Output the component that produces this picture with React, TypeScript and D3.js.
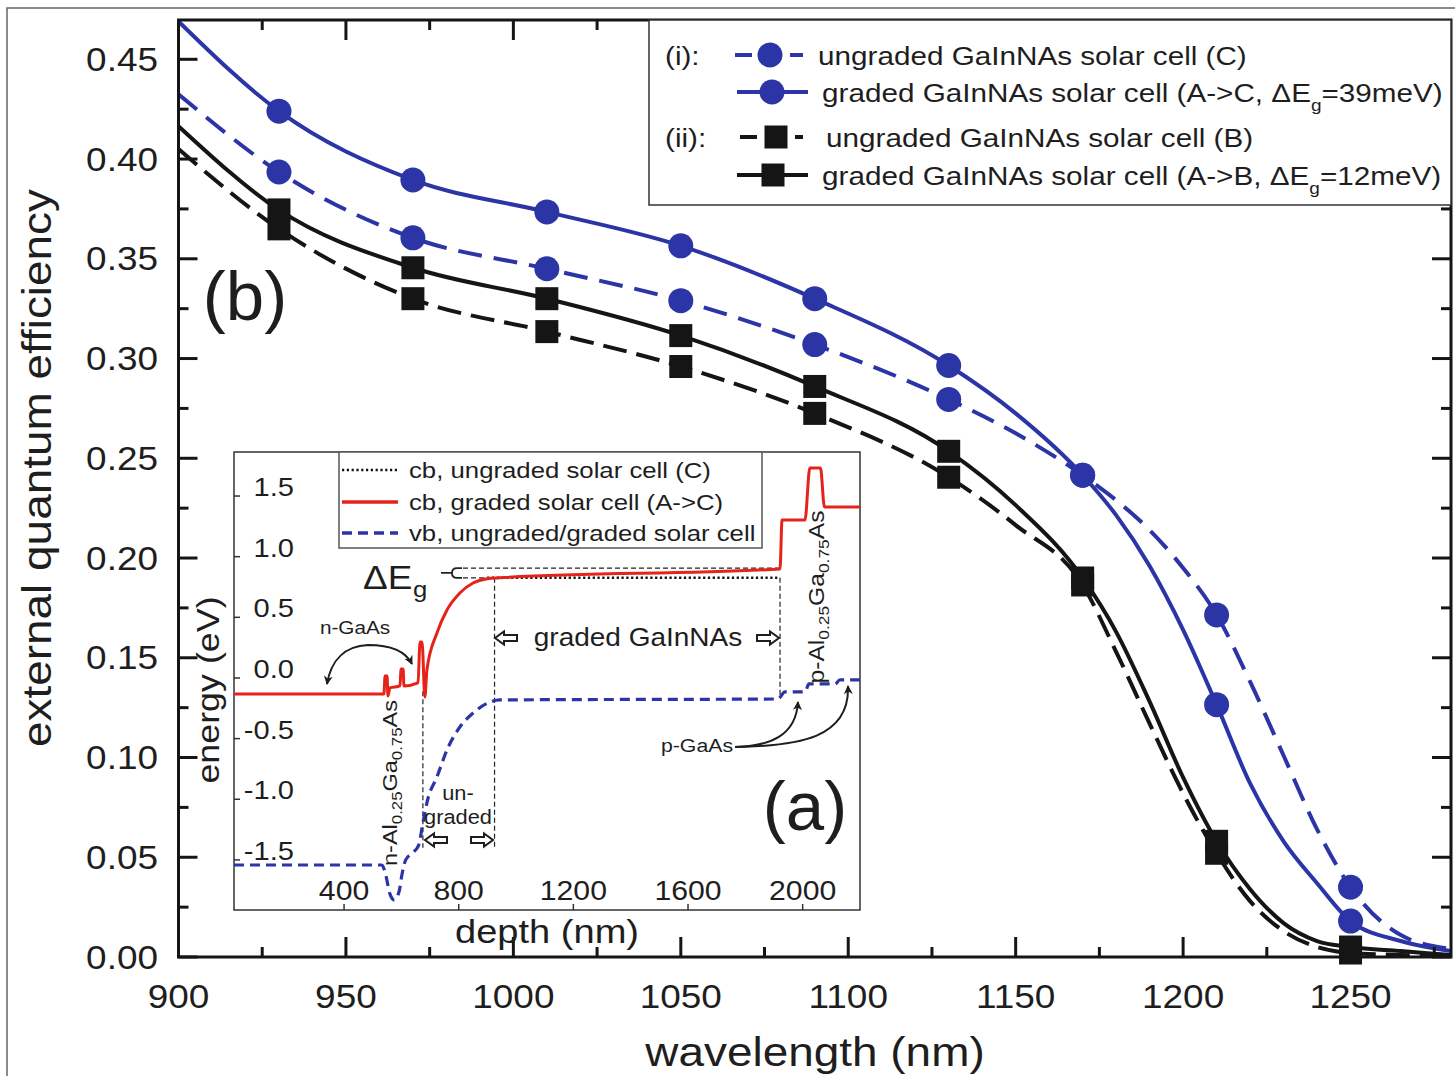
import React from 'react';
import * as d3 from 'd3';

const FONT = "'Liberation Sans', Arial, Helvetica, sans-serif";
const SX = 1.12;
const BLUE = '#2c35a6';
const BLACK = '#151515';
const TXT = '#1e1e1e';
const RED = '#e5231b';

// ---------------- main panel (b) data ----------------
const wavelengths = [900, 930, 970, 1010, 1050, 1090, 1130, 1150, 1170, 1180, 1190, 1200, 1210, 1220, 1230, 1240, 1250, 1265, 1280];
const gradedC = [0.469, 0.424, 0.3895, 0.3735, 0.3565, 0.330, 0.2965, 0.2725, 0.2415, 0.2215, 0.196, 0.164, 0.1265, 0.087, 0.058, 0.037, 0.018, 0.008, 0.003];
const ungradedC = [0.4325, 0.3935, 0.3605, 0.345, 0.329, 0.307, 0.2795, 0.2625, 0.2415, 0.229, 0.214, 0.195, 0.1715, 0.138, 0.101, 0.064, 0.035, 0.011, 0.004];
const gradedB = [0.4165, 0.3745, 0.3455, 0.330, 0.3115, 0.286, 0.2535, 0.2265, 0.190, 0.163, 0.128, 0.090, 0.058, 0.034, 0.017, 0.008, 0.005, 0.003, 0.001];
const ungradedB = [0.405, 0.365, 0.330, 0.3135, 0.296, 0.2725, 0.2405, 0.2165, 0.1865, 0.153, 0.117, 0.082, 0.052, 0.028, 0.013, 0.005, 0.002, 0.001, 0.0];
const markerWavelengths = [930, 970, 1010, 1050, 1090, 1130, 1170, 1210, 1250];

const xMajorTicks = [900, 950, 1000, 1050, 1100, 1150, 1200, 1250];
const xMinorTicks = [925, 975, 1025, 1075, 1125, 1175, 1225, 1275];
const yMajorTicks = [0, 0.05, 0.1, 0.15, 0.2, 0.25, 0.3, 0.35, 0.4, 0.45];
const yMinorTicks = [0.025, 0.075, 0.125, 0.175, 0.225, 0.275, 0.325, 0.375, 0.425];

// ---------------- inset (a) data: [depth nm, energy eV] ----------------
const cbGraded: [number, number][] = [
  [16, -0.132], [539, -0.132], [543, 0.016], [550, 0.016], [553, -0.148], [560, -0.082], [595, -0.066],
  [599, 0.074], [606, 0.074], [609, -0.066], [658, -0.041], [665, 0.297], [672, 0.297], [682, -0.157],
  [689, 0.066], [724, 0.371], [759, 0.561], [804, 0.701], [850, 0.783], [899, 0.818], [944, 0.826],
  [1921, 0.899], [1928, 1.303], [2008, 1.303], [2025, 1.731], [2062, 1.731], [2076, 1.41], [2200, 1.41],
];
const cbUngraded: [number, number][] = [[899, 0.826], [1921, 0.826]];
const vbBoth: [number, number][] = [
  [16, -1.542], [532, -1.542], [545, -1.62], [560, -1.78], [575, -1.83], [592, -1.76], [602, -1.62],
  [615, -1.5], [640, -1.44], [660, -1.38], [675, -1.195], [692, -1.0], [724, -0.816], [759, -0.594],
  [804, -0.404], [850, -0.289], [902, -0.206], [944, -0.181], [1914, -0.173], [1938, -0.115],
  [2008, -0.115], [2022, -0.049], [2113, -0.049], [2130, -0.016], [2200, -0.016],
];
const insetXTicks = [400, 800, 1200, 1600, 2000];
const insetYTicks = [-1.5, -1.0, -0.5, 0.0, 0.5, 1.0, 1.5];
const deltaEgLevels = [0.826, 0.905];
const layerBounds = [675, 925, 1921];

// ---------------- helpers ----------------
function T({ x, y, size, anchor = 'start', rotate = 0, sx = SX, fill = TXT, children }: any) {
  const tr = `translate(${x},${y})` + (rotate ? ` rotate(${rotate})` : '') + ` scale(${sx},1)`;
  return (
    <text transform={tr} fontSize={size} textAnchor={anchor} fill={fill} fontFamily={FONT}>
      {children}
    </text>
  );
}

function blockArrow(cx: number, cy: number, dir: number) {
  const w = 22, h = 13, hw = 9, bh = 3;
  const pts = [
    [-w / 2, -bh], [w / 2 - hw, -bh], [w / 2 - hw, -h / 2], [w / 2, 0],
    [w / 2 - hw, h / 2], [w / 2 - hw, bh], [-w / 2, bh],
  ].map(([px, py]) => `${cx + px * dir},${cy + py}`).join(' ');
  return <polygon points={pts} fill="white" stroke={TXT} strokeWidth={2} strokeLinejoin="miter" />;
}

const fmt1 = (v: number) => d3.format('.1f')(v).replace('\u2212', '-');

export default function App() {
  const W = 1455, H = 1076;
  const x = d3.scaleLinear().domain([900, 1280]).range([178.5, 1451]);
  const y = d3.scaleLinear().domain([0, 0.4697]).range([957, 20]);
  const [x0, x1] = x.range();
  const [y0, y1] = y.range();

  const mainLine = (vals: number[]) =>
    d3.line<number>().x((_, i) => x(wavelengths[i])).y((v) => y(v)).curve(d3.curveMonotoneX)(vals) || '';
  const mk = (vals: number[]) =>
    markerWavelengths.map((w) => ({ w, v: vals[wavelengths.indexOf(w)] }));

  const ix = d3.scaleLinear().domain([16, 2200]).range([234, 860]);
  const iy = d3.scaleLinear().domain([-1.913, 1.863]).range([910, 452]);
  const insetLine = d3.line<[number, number]>().x((d) => ix(d[0])).y((d) => iy(d[1])).curve(d3.curveMonotoneX);
  const straight = d3.line<[number, number]>().x((d) => ix(d[0])).y((d) => iy(d[1]));

  const sq = 23;

  return (
    <svg width={W} height={H} style={{ position: 'absolute', left: 0, top: 0, background: 'white' }} xmlns="http://www.w3.org/2000/svg">
      <defs>
        <clipPath id="mainClip"><rect x={x0} y={y1} width={x1 - x0} height={y0 - y1} /></clipPath>
        <clipPath id="insetClip"><rect x={234} y={452} width={626} height={458} /></clipPath>
        <marker id="ah" viewBox="0 0 10 10" refX="9" refY="5" markerWidth="9" markerHeight="9" markerUnits="userSpaceOnUse" orient="auto-start-reverse">
          <path d="M0,0 L10,5 L0,10 L3,5 z" fill={TXT} />
        </marker>
      </defs>
      <rect x={0} y={0} width={W} height={H} fill="white" />
      {/* outer figure border */}
      <rect x={7} y={8} width={1470} height={1090} fill="none" stroke="#666" strokeWidth={1.5} />

      {/* curves */}
      <g clipPath="url(#mainClip)" fill="none" strokeWidth={4}>
        <path d={mainLine(ungradedB)} stroke={BLACK} strokeDasharray="24 10" />
        <path d={mainLine(gradedB)} stroke={BLACK} />
        <path d={mainLine(ungradedC)} stroke={BLUE} strokeDasharray="24 12" />
        <path d={mainLine(gradedC)} stroke={BLUE} />
      </g>
      {/* markers */}
      {mk(ungradedB).map((d) => <rect key={'ub' + d.w} x={x(d.w) - sq / 2} y={y(d.v) - sq / 2} width={sq} height={sq} fill={BLACK} />)}
      {mk(gradedB).map((d) => <rect key={'gb' + d.w} x={x(d.w) - sq / 2} y={y(d.v) - sq / 2} width={sq} height={sq} fill={BLACK} />)}
      {mk(ungradedC).map((d) => <circle key={'uc' + d.w} cx={x(d.w)} cy={y(d.v)} r={12.5} fill={BLUE} />)}
      {mk(gradedC).map((d) => <circle key={'gc' + d.w} cx={x(d.w)} cy={y(d.v)} r={12.5} fill={BLUE} />)}

      {/* frame and ticks */}
      <rect x={x0} y={y1} width={x1 - x0} height={y0 - y1} fill="none" stroke={BLACK} strokeWidth={3} />
      <g stroke={BLACK} strokeWidth={3}>
        {xMajorTicks.map((t) => <line key={'xb' + t} x1={x(t)} x2={x(t)} y1={y0} y2={y0 - 20} />)}
        {xMinorTicks.map((t) => <line key={'xbm' + t} x1={x(t)} x2={x(t)} y1={y0} y2={y0 - 10} />)}
        {xMajorTicks.map((t) => <line key={'xt' + t} x1={x(t)} x2={x(t)} y1={y1} y2={y1 + 20} />)}
        {xMinorTicks.map((t) => <line key={'xtm' + t} x1={x(t)} x2={x(t)} y1={y1} y2={y1 + 10} />)}
        {yMajorTicks.map((t) => <line key={'yl' + t} x1={x0} x2={x0 + 19} y1={y(t)} y2={y(t)} />)}
        {yMinorTicks.map((t) => <line key={'ylm' + t} x1={x0} x2={x0 + 10} y1={y(t)} y2={y(t)} />)}
        {yMajorTicks.map((t) => <line key={'yr' + t} x1={x1} x2={x1 - 19} y1={y(t)} y2={y(t)} />)}
        {yMinorTicks.map((t) => <line key={'yrm' + t} x1={x1} x2={x1 - 10} y1={y(t)} y2={y(t)} />)}
      </g>
      {yMajorTicks.map((t) => (
        <T key={'yl' + t} x={158} y={y(t) + 11.5} size={33} anchor="end">{d3.format('.2f')(t)}</T>
      ))}
      {xMajorTicks.map((t) => (
        <T key={'xl' + t} x={x(t)} y={1008} size={33} anchor="middle">{t}</T>
      ))}
      <T x={815} y={1066} size={41} anchor="middle">wavelength (nm)</T>
      <T x={51} y={468} size={41} anchor="middle" rotate={-90}>external quantum efficiency</T>
      <T x={245} y={320} size={69} anchor="middle" sx={1}>(b)</T>

      {/* main legend */}
      <rect x={649} y={y1} width={x1 - 649} height={185} fill="white" stroke="#333" strokeWidth={1.5} />
      <g>
        <T x={665} y={64.5} size={26.5}>(i):</T>
        <line x1={735} x2={752} y1={55} y2={55} stroke={BLUE} strokeWidth={4} />
        <line x1={790} x2={803} y1={55} y2={55} stroke={BLUE} strokeWidth={4} />
        <circle cx={770} cy={55} r={12.5} fill={BLUE} />
        <T x={818} y={64.5} size={26.5}>ungraded GaInNAs solar cell (C)</T>

        <line x1={737} x2={808} y1={92} y2={92} stroke={BLUE} strokeWidth={4} />
        <circle cx={772} cy={92} r={12.5} fill={BLUE} />
        <T x={822} y={101.5} size={26.5}>
          graded GaInNAs solar cell (A-&gt;C, ΔE<tspan fontSize={17} dy={9}>g</tspan><tspan dy={-9}>=39meV)</tspan>
        </T>

        <T x={665} y={146.5} size={26.5}>(ii):</T>
        <line x1={740} x2={757} y1={137} y2={137} stroke={BLACK} strokeWidth={4} />
        <line x1={795} x2={803} y1={137} y2={137} stroke={BLACK} strokeWidth={4} />
        <rect x={776 - sq / 2} y={137 - sq / 2} width={sq} height={sq} fill={BLACK} />
        <T x={826} y={146.5} size={26.5}>ungraded GaInNAs solar cell (B)</T>

        <line x1={737} x2={808} y1={175} y2={175} stroke={BLACK} strokeWidth={4} />
        <rect x={773 - sq / 2} y={175 - sq / 2} width={sq} height={sq} fill={BLACK} />
        <T x={822} y={184.5} size={26.5}>
          graded GaInNAs solar cell (A-&gt;B, ΔE<tspan fontSize={17} dy={9}>g</tspan><tspan dy={-9}>=12meV)</tspan>
        </T>
      </g>

      {/* ---------------- inset (a) ---------------- */}
      <rect x={234} y={452} width={626} height={458} fill="white" stroke="#333" strokeWidth={1.5} />
      <g clipPath="url(#insetClip)">
        {/* reference thin dashed lines */}
        <g stroke="#222" strokeWidth={1.2} strokeDasharray="5 3" fill="none">
          <path d={straight([[815, deltaEgLevels[1]], [1921, deltaEgLevels[1]]]) || ''} />
          <path d={straight([[815, deltaEgLevels[0]], [925, deltaEgLevels[0]]]) || ''} />
          <path d={straight([[layerBounds[0], -0.11], [layerBounds[0], -1.40]]) || ''} />
          <path d={straight([[layerBounds[1], deltaEgLevels[0]], [layerBounds[1], -1.40]]) || ''} />
          <path d={straight([[layerBounds[2], deltaEgLevels[0]], [layerBounds[2], -0.165]]) || ''} />
        </g>
        <path d={straight(cbUngraded) || ''} fill="none" stroke="#111" strokeWidth={2.6} strokeDasharray="2.2 2.6" />
        <path d={insetLine(vbBoth) || ''} fill="none" stroke={BLUE} strokeWidth={3.2} strokeDasharray="10 6" />
        <path d={insetLine(cbGraded) || ''} fill="none" stroke={RED} strokeWidth={3} />
      </g>
      {/* inset ticks */}
      <g stroke="#333" strokeWidth={1.5}>
        {insetXTicks.map((t) => <line key={'ixt' + t} x1={ix(t)} x2={ix(t)} y1={910} y2={904} />)}
        {insetYTicks.map((t) => <line key={'iyt' + t} x1={234} x2={240} y1={iy(t)} y2={iy(t)} />)}
      </g>
      {insetYTicks.map((t) => (
        <T key={'iyl' + t} x={294} y={iy(t)} size={26} anchor="end">{fmt1(t)}</T>
      ))}
      {insetXTicks.map((t) => (
        <T key={'ixl' + t} x={ix(t)} y={900} size={27} anchor="middle">{t}</T>
      ))}
      <T x={547} y={943} size={34} anchor="middle">depth (nm)</T>
      <T x={219} y={690} size={32} anchor="middle" rotate={-90}>energy (eV)</T>

      {/* inset legend */}
      <rect x={339} y={452} width={423} height={96} fill="white" stroke="#555" strokeWidth={1.5} />
      <line x1={342} x2={398} y1={470} y2={470} stroke="#111" strokeWidth={2.6} strokeDasharray="2.2 2.6" />
      <T x={409} y={478} size={23}>cb, ungraded solar cell (C)</T>
      <line x1={342} x2={398} y1={502} y2={502} stroke={RED} strokeWidth={3.5} />
      <T x={409} y={510} size={23}>cb, graded solar cell (A-&gt;C)</T>
      <line x1={342} x2={398} y1={533} y2={533} stroke={BLUE} strokeWidth={3.5} strokeDasharray="10 6" />
      <T x={409} y={541} size={23}>vb, ungraded/graded solar cell</T>

      {/* ΔEg annotation */}
      <T x={363} y={589} size={33}>ΔE</T>
      <T x={413} y={597} size={23}>g</T>
      <path d={`M441,${iy(0.866)} H452 M462,${iy(deltaEgLevels[1])} H457 Q452,${iy(deltaEgLevels[1])} 452,${iy(0.866)} Q452,${iy(deltaEgLevels[0])} 457,${iy(deltaEgLevels[0])} H462`}
        fill="none" stroke="#222" strokeWidth={1.8} />

      {/* n-GaAs */}
      <T x={355} y={634} size={18.5} anchor="middle">n-GaAs</T>
      <path d="M327,684 C331,660 345,646 368,645 C390,645 405,650 412,664" fill="none" stroke={TXT} strokeWidth={2}
        markerStart="url(#ah)" markerEnd="url(#ah)" />

      {/* layer labels */}
      <T x={397} y={783} size={21} anchor="middle" rotate={-90}>
        n-Al<tspan fontSize={15} dy={5}>0.25</tspan><tspan dy={-5}>Ga</tspan><tspan fontSize={15} dy={5}>0.75</tspan><tspan dy={-5}>As</tspan>
      </T>
      <T x={824} y={597} size={22} anchor="middle" rotate={-90}>
        p-Al<tspan fontSize={15.5} dy={5}>0.25</tspan><tspan dy={-5}>Ga</tspan><tspan fontSize={15.5} dy={5}>0.75</tspan><tspan dy={-5}>As</tspan>
      </T>
      <T x={458} y={800} size={19.5} anchor="middle">un-</T>
      <T x={458} y={824} size={19.5} anchor="middle">graded</T>
      {blockArrow(436, 840, -1)}
      {blockArrow(482, 840, 1)}
      <T x={638} y={646} size={25} anchor="middle">graded GaInNAs</T>
      {blockArrow(506, 638, -1)}
      {blockArrow(768, 638, 1)}

      {/* p-GaAs */}
      <T x={697} y={752} size={19} anchor="middle">p-GaAs</T>
      <path d="M735,747 C770,746 796,736 798,702" fill="none" stroke={TXT} strokeWidth={2} markerEnd="url(#ah)" />
      <path d="M735,747 C800,746 850,738 848,686" fill="none" stroke={TXT} strokeWidth={2} markerEnd="url(#ah)" />

      <T x={805} y={830} size={69} anchor="middle" sx={1}>(a)</T>
    </svg>
  );
}
